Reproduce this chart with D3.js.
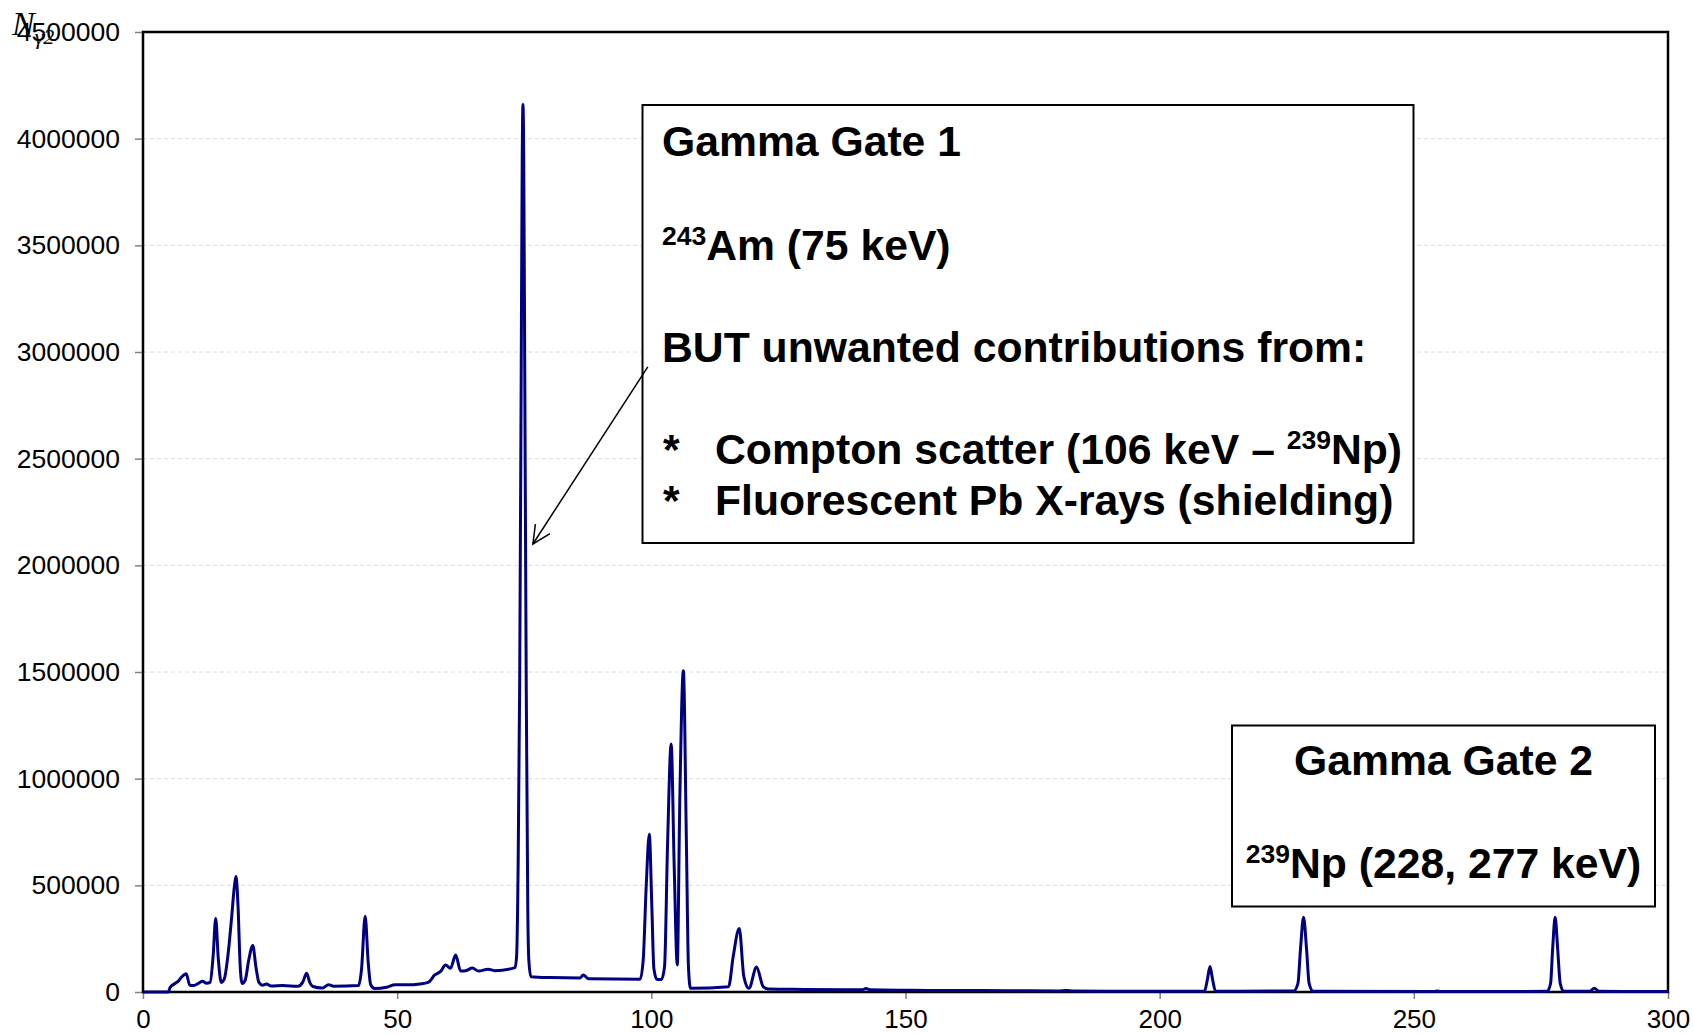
<!DOCTYPE html>
<html>
<head>
<meta charset="utf-8">
<script src="https://cdn.jsdelivr.net/npm/d3@7/dist/d3.min.js"></script>
<style>
  html, body { margin: 0; padding: 0; background: #fff; }
  svg { display: block; }
</style>
</head>
<body>
<svg id="chart" width="1693" height="1035"></svg>
<script>
// ---- Data ----
const energyKeV = [
  0, 5.0, 5.3, 6.3, 7.0, 7.6, 8.5, 9.2, 10.0, 11.0, 11.7, 12.5, 13.2, 13.8, 14.3, 14.8, 15.4, 16.0,
  16.7, 17.4, 18.0, 18.3, 18.7, 19.1, 19.5, 20.1, 20.8, 21.6, 22.2, 22.8, 23.5, 24.3, 25.2, 27.5,
  30.5, 31.4, 32.2, 32.8, 33.4, 35.3, 36.5, 37.5, 42.4, 43.0, 43.7, 44.3, 44.8, 45.6, 47.9, 49.6,
  51.9, 54.5, 56.1, 57.4, 58.6, 59.5, 60.5, 61.5, 62.5, 63.5, 64.8, 66.0, 67.9, 69.2, 73.2, 73.5,
  73.8, 74.1, 74.4, 74.6, 74.75, 74.9, 75.1, 75.4, 75.7, 75.9, 76.3, 80.0, 86.0, 86.6, 87.6, 97.8,
  98.4, 99.0, 99.6, 100.1, 100.5, 101.1, 102.0, 102.6, 103.2, 103.9, 104.5, 105.1, 105.6, 106.3,
  106.9, 107.3, 107.7, 115.2, 116.1, 117.3, 118.2, 119.2, 120.7, 122.0, 123.0, 130, 140, 141.5,
  142.2, 143, 150, 160, 170, 180, 181.7, 183, 190, 200, 208.8, 209.4, 209.9, 210.4, 211.0, 226.4,
  227.2, 227.7, 228.3, 228.9, 229.4, 230.2, 254.0, 254.6, 255.2, 276.2, 276.9, 277.3, 277.8, 278.3,
  278.8, 279.5, 284.6, 285.5, 286.4, 300
];
const counts = [
  0, 0, 20000, 40000, 52000, 70000, 85000, 32000, 31000, 42000, 50000, 41000, 45000, 170000, 345000, 160000, 45000, 62000,
  170000, 340000, 500000, 542000, 400000, 130000, 40000, 55000, 150000, 218000, 120000, 45000, 32000, 37000, 28000, 30000,
  27000, 45000, 88000, 45000, 26000, 19000, 34000, 27000, 30000, 110000, 355000, 140000, 34000, 16000, 22000, 34000,
  34000, 38000, 45000, 80000, 98000, 127000, 111000, 173000, 98000, 100000, 112000, 98000, 107000, 100000, 114000, 170000,
  600000, 1450000, 2900000, 3900000, 4160000, 3900000, 2900000, 1400000, 380000, 150000, 72000, 68000, 66000, 80000, 62000, 60000,
  150000, 500000, 740000, 400000, 110000, 59000, 59000, 119000, 700000, 1162000, 587000, 127000, 900000, 1506000,
  700000, 119000, 17000, 25000, 166000, 298000, 72000, 17000, 117000, 25000, 14000, 12000, 10000, 10000,
  16000, 10000, 8000, 7000, 6000, 5000, 7000, 4500, 3500, 3000, 3000, 60000, 120000, 60000, 3000, 5000,
  40000, 200000, 350000, 200000, 40000, 3000, 2500, 5000, 2500, 3000, 40000, 200000, 350000, 200000,
  40000, 3000, 3000, 18000, 3000, 2000
];
const xTicks = [0, 50, 100, 150, 200, 250, 300];
const yTicks = [0, 500000, 1000000, 1500000, 2000000, 2500000, 3000000, 3500000, 4000000, 4500000];

// annotation content
const gate1Lines = ["Gamma Gate 1", "Am (75 keV)", "BUT unwanted contributions from:"];
const gate1Bullets = [
  { pre: "Compton scatter (106 keV \u2013 ", sup: "239", post: "Np)" },
  { pre: "Fluorescent Pb X-rays (shielding)", sup: "", post: "" }
];
const gate2Title = "Gamma Gate 2";
const gate2Line = { sup: "239", post: "Np (228, 277 keV)" };
const arrowFrom = [99.3, 2930000];
const arrowTo = [76.7, 2100000];

// ---- Layout ----
const plot = { left: 143, right: 1668, top: 32, bottom: 992 };
const svg = d3.select("#chart");
const x = d3.scaleLinear().domain([0, 300]).range([plot.left, plot.right]);
const y = d3.scaleLinear().domain([0, 4500000]).range([plot.bottom, plot.top]);
const font = "'Liberation Sans', Arial, Helvetica, sans-serif";

// gridlines
svg.append("g").selectAll("line").data(yTicks.filter(v => v > 0 && v < 4500000)).join("line")
  .attr("x1", plot.left).attr("x2", plot.right)
  .attr("y1", d => y(d)).attr("y2", d => y(d))
  .attr("stroke", "#dcdcdc").attr("stroke-width", 1).attr("stroke-dasharray", "4,3");

// y axis
const yAxis = d3.axisLeft(y).tickValues(yTicks).tickFormat(d3.format("d")).tickSize(8).tickPadding(15);
const gy = svg.append("g").attr("transform", `translate(${plot.left},0)`).call(yAxis);
gy.select(".domain").remove();
gy.selectAll(".tick line").attr("stroke", "#808080").attr("stroke-width", 1.5);
gy.selectAll(".tick text").attr("font-family", font).attr("font-size", 26.5).attr("fill", "#000");

// x axis
const xAxis = d3.axisBottom(x).tickValues(xTicks).tickFormat(d3.format("d")).tickSize(7).tickPadding(11);
const gx = svg.append("g").attr("transform", `translate(0,${plot.bottom})`).call(xAxis);
gx.select(".domain").remove();
gx.selectAll(".tick line").attr("stroke", "#808080").attr("stroke-width", 1.5);
gx.selectAll(".tick text").attr("font-family", font).attr("font-size", 26).attr("fill", "#000");

// frame
svg.append("rect")
  .attr("x", plot.left).attr("y", plot.top)
  .attr("width", plot.right - plot.left).attr("height", plot.bottom - plot.top)
  .attr("fill", "none").attr("stroke", "#000").attr("stroke-width", 2.5);

// spectrum line
const pts = energyKeV.map((e, i) => [e, counts[i]]);
const line = d3.line().x(d => x(d[0])).y(d => y(d[1])).curve(d3.curveMonotoneX);
svg.append("path").datum(pts)
  .attr("d", line).attr("fill", "none")
  .attr("stroke", "#000080").attr("stroke-width", 3).attr("stroke-linejoin", "round");

// y label N_γ2
const ylab = svg.append("text").attr("x", 12).attr("y", 35)
  .attr("font-family", "'Liberation Serif', 'DejaVu Serif', 'Times New Roman', serif").attr("font-style", "italic")
  .attr("font-size", 34).attr("fill", "#000");
ylab.append("tspan").text("N");
ylab.append("tspan").attr("dy", 9).attr("font-size", 22).text("\u03B32");

// Gamma gate 1 box
const b1 = { x: 642.5, y: 105, w: 771, h: 438 };
svg.append("rect").attr("x", b1.x).attr("y", b1.y).attr("width", b1.w).attr("height", b1.h)
  .attr("fill", "#fff").attr("stroke", "#000").attr("stroke-width", 2);
const tx = 662, fs = 42.7;
const t1 = svg.append("g").attr("font-family", font).attr("font-weight", "bold").attr("font-size", fs).attr("fill", "#000");
t1.append("text").attr("x", tx).attr("y", 156).text(gate1Lines[0]);
const l2 = t1.append("text").attr("x", tx).attr("y", 260);
l2.append("tspan").attr("font-size", 26.5).attr("dy", -15).text("243");
l2.append("tspan").attr("dy", 15).text(gate1Lines[1]);
t1.append("text").attr("x", tx).attr("y", 362).text(gate1Lines[2]);
const bulletY = [464, 515];
gate1Bullets.forEach((b, i) => {
  t1.append("text").attr("x", tx + 1).attr("y", bulletY[i]).text("*");
  const t = t1.append("text").attr("x", 715).attr("y", bulletY[i]);
  t.append("tspan").text(b.pre);
  if (b.sup) {
    t.append("tspan").attr("font-size", 26.5).attr("dy", -15).text(b.sup);
    t.append("tspan").attr("dy", 15).text(b.post);
  }
});

// arrow
const ax1 = x(arrowFrom[0]), ay1 = y(arrowFrom[1]);
const ax2 = x(arrowTo[0]), ay2 = y(arrowTo[1]);
svg.append("line").attr("x1", ax1).attr("y1", ay1).attr("x2", ax2).attr("y2", ay2)
  .attr("stroke", "#000").attr("stroke-width", 1.5);
const ang = Math.atan2(ay1 - ay2, ax1 - ax2);
const hl = 20, ha = 0.45;
svg.append("path")
  .attr("d", `M${ax2 + hl * Math.cos(ang + ha)},${ay2 + hl * Math.sin(ang + ha)} L${ax2},${ay2} L${ax2 + hl * Math.cos(ang - ha)},${ay2 + hl * Math.sin(ang - ha)}`)
  .attr("fill", "none").attr("stroke", "#000").attr("stroke-width", 1.5);

// Gamma gate 2 box
const b2 = { x: 1232, y: 725.5, w: 423, h: 181 };
svg.append("rect").attr("x", b2.x).attr("y", b2.y).attr("width", b2.w).attr("height", b2.h)
  .attr("fill", "#fff").attr("stroke", "#000").attr("stroke-width", 2);
const cx2 = b2.x + b2.w / 2;
const t2 = svg.append("g").attr("font-family", font).attr("font-weight", "bold").attr("font-size", fs).attr("fill", "#000");
t2.append("text").attr("x", cx2).attr("y", 775).attr("text-anchor", "middle").text(gate2Title);
const l22 = t2.append("text").attr("x", cx2).attr("y", 878).attr("text-anchor", "middle");
l22.append("tspan").attr("font-size", 26.5).attr("dy", -15).text(gate2Line.sup);
l22.append("tspan").attr("dy", 15).text(gate2Line.post);
</script>
</body>
</html>
